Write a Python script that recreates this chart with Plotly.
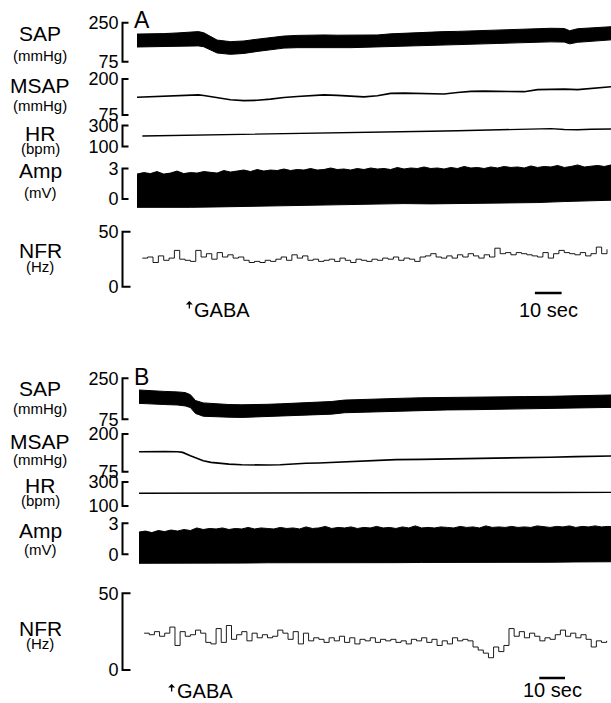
import plotly.graph_objects as go
import numpy as np

W, H = 611, 703
FONT = "Liberation Sans, Arial, Helvetica, sans-serif"

# ---------------- Panel A data ----------------
sap_a_t = [0, 5, 10, 15, 20, 23, 25, 30, 35, 40, 45, 50, 55, 60, 65, 70, 75, 80, 85, 90, 95, 100,
           105, 110, 115, 120, 125, 130, 135, 140, 145, 150, 155, 160, 162, 165, 170, 177.5]
sap_a_top = [199, 199, 201, 204, 207, 210, 205, 172, 165, 168, 176, 184, 190, 193, 195, 195, 194, 194, 193, 195, 200, 203,
             207, 209, 210, 211, 213, 214, 217, 219, 221, 224, 225, 224, 214, 223, 227, 232]
sap_a_bot = [141, 142, 143, 145, 145, 146, 142, 114, 108, 112, 121, 130, 136, 138, 139, 139, 138, 138, 137, 139, 143, 146,
             148, 149, 150, 151, 153, 155, 157, 159, 160, 163, 164, 163, 155, 162, 168, 173]

msap_a_t = [0, 5, 10, 15, 20, 23, 25, 30, 35, 40, 45, 50, 55, 60, 65, 70, 75, 80, 85, 90, 95, 100,
            105, 110, 115, 120, 125, 130, 135, 140, 145, 150, 155, 160, 165, 170, 177.5]
msap_a = [136.5, 138.5, 140, 142, 144, 145, 143, 135, 128, 125, 126, 130, 136, 139, 143, 145, 143, 141, 138, 142, 150, 151,
          150, 149, 148, 153, 157, 158, 157, 155, 156, 163, 165, 165, 163, 166, 173]

hr_a_t = [2, 10, 20, 30, 40, 50, 60, 70, 80, 90, 100, 110, 120, 130, 140, 150, 155, 160, 165, 170, 177.5]
hr_a = [200, 203, 207, 211, 215, 218, 222, 225, 227, 234, 239, 245, 250, 256, 262, 267, 270, 262, 259, 264, 267]

amp_a_top = [2.45, 2.60, 2.50, 2.70, 2.45, 2.55, 2.75, 2.50, 2.60, 2.55, 2.70, 2.60,
             2.55, 2.80, 2.65, 2.75, 2.85, 2.70, 2.90, 2.75, 2.85, 2.80, 2.95, 2.80,
             2.90, 2.85, 3.00, 2.85, 2.90, 3.05, 2.90, 2.95, 2.85, 3.00, 2.90, 3.05,
             2.95, 3.00, 2.90, 3.10, 2.95, 3.05, 3.00, 3.15, 3.00, 3.05, 2.95, 3.10,
             3.00, 3.20, 3.05, 3.10, 3.00, 3.15, 3.05, 3.20, 3.10, 3.15, 3.05, 3.25,
             3.10, 3.20, 3.15, 3.30, 3.10, 3.20, 3.35, 3.15, 3.25, 3.30, 3.20, 3.35]
amp_a_bot_t = [0, 10, 20, 30, 40, 50, 60, 70, 80, 90, 100, 110, 120, 130, 140, 150, 160, 170, 177.5]
amp_a_bot = [-0.82, -0.80, -0.82, -0.78, -0.80, -0.75, -0.70, -0.62, -0.55, -0.50, -0.45, -0.48,
             -0.45, -0.42, -0.40, -0.35, -0.25, -0.15, -0.12]

nfr_a = [26, 27, 22, 28, 24, 26, 33, 25, 24, 23,
         33, 27, 30, 25, 31, 27, 29, 26, 27, 24,
         22, 23, 22, 24, 23, 25, 27, 24, 29, 26,
         28, 24, 25, 23, 24, 25, 23, 26, 24, 22,
         25, 24, 23, 25, 24, 26, 25, 27, 24, 26,
         25, 23, 27, 28, 30, 27, 26, 28, 26, 29,
         27, 30, 28, 26, 29, 27, 35, 30, 31, 29,
         31, 30, 29, 28, 27, 31, 26, 30, 33, 31,
         30, 29, 31, 28, 30, 36, 30, 34]

# ---------------- Panel B data ----------------
sap_b_t = [0, 5, 10, 15, 18, 20, 22, 25, 30, 35, 40, 45, 50, 55, 60, 65, 70, 75, 80, 85, 90,
           100, 110, 120, 130, 140, 150, 160, 170, 180, 185]
sap_b_top = [200, 196, 194, 192, 189, 180, 155, 145, 140, 138, 137, 137, 139, 141, 143, 145, 148, 151, 157, 158, 160,
             164, 167, 169, 170, 171, 172, 173, 176, 178, 179]
sap_b_bot = [143, 140, 138, 136, 132, 125, 100, 88, 86, 84, 83, 83, 85, 88, 90, 93, 95, 97, 103, 103, 104,
             108, 112, 115, 116, 117, 118, 120, 122, 125, 126]

msap_b_t = [0, 5, 10, 15, 17, 20, 22, 25, 28, 30, 35, 40, 45, 50, 55, 60, 65, 70, 75, 80, 85, 90,
            100, 110, 120, 130, 140, 150, 160, 170, 185]
msap_b = [141, 142, 142, 141, 139, 128, 121, 111, 106, 104, 100, 98, 97, 97, 98, 101, 103, 104, 106, 108, 110, 112,
          115, 116, 117, 118, 119, 121, 123, 125, 127]

hr_b_t = [0, 20, 40, 60, 80, 100, 120, 140, 160, 185]
hr_b = [206, 206, 207, 208, 209, 210, 211, 212, 213, 214]

amp_b_top = [2.15, 2.25, 2.10, 2.30, 2.20, 2.35, 2.25, 2.40, 2.30, 2.55, 2.40, 2.50,
             2.45, 2.55, 2.40, 2.50, 2.45, 2.60, 2.45, 2.55, 2.50, 2.45, 2.60, 2.50,
             2.55, 2.45, 2.65, 2.50, 2.55, 2.70, 2.50, 2.60, 2.55, 2.65, 2.50, 2.60,
             2.55, 2.70, 2.55, 2.60, 2.50, 2.65, 2.55, 2.75, 2.55, 2.60, 2.55, 2.65,
             2.60, 2.55, 2.70, 2.60, 2.65, 2.55, 2.75, 2.60, 2.65, 2.60, 2.70, 2.60,
             2.65, 2.60, 2.75, 2.65, 2.60, 2.70, 2.65, 2.75, 2.60, 2.70, 2.65, 2.75,
             2.65, 2.70, 2.65]
amp_b_bot_t = [0, 10, 20, 30, 40, 50, 60, 70, 80, 90, 100, 110, 120, 130, 140, 150, 160, 170, 180, 185]
amp_b_bot = [-0.87, -0.85, -0.86, -0.84, -0.85, -0.82, -0.84, -0.81, -0.82, -0.80,
             -0.81, -0.79, -0.80, -0.78, -0.79, -0.76, -0.77, -0.74, -0.75, -0.72]

nfr_b = [24, 23, 25, 22, 24, 28, 16, 25, 22, 23,
         26, 24, 18, 17, 27, 18, 29, 20, 23, 25,
         19, 24, 21, 23, 21, 22, 26, 24, 20, 25,
         17, 24, 19, 21, 20, 18, 21, 19, 22, 18,
         21, 17, 20, 19, 21, 18, 20, 19, 20, 18,
         19, 17, 20, 19, 21, 18, 20, 16, 19, 17,
         21, 19, 20, 19, 15, 13, 11, 8, 15, 12,
         16, 27, 22, 25, 21, 24, 22, 19, 21, 20,
         23, 26, 22, 24, 21, 23, 20, 15, 19, 18,
         19]

gaba_a_t, gaba_b_t = 19.6, 12.7
bar_a_t, bar_b_t = 149.0, 155.8
scale_sec = 10

# ---------------- figure ----------------
def yp(px):
    return 1 - px / H

fig = go.Figure()

def band(t_top, top, t_bot, bot, xa, ya):
    fig.add_trace(go.Scatter(x=list(t_top) + list(t_bot)[::-1], y=list(top) + list(bot)[::-1],
                             xaxis=xa, yaxis=ya, mode="lines", fill="toself", fillcolor="black",
                             line=dict(color="black", width=1), hoverinfo="skip"))

def trace(t, v, xa, ya, width=1.2, shape="linear"):
    fig.add_trace(go.Scatter(x=t, y=v, xaxis=xa, yaxis=ya, mode="lines",
                             line=dict(color="black", width=width, shape=shape), hoverinfo="skip"))

t_amp_a = list(np.arange(len(amp_a_top)) * 2.5)
t_amp_b = list(np.arange(len(amp_b_top)) * 2.5)
t_nfr_a = list(2 + np.arange(len(nfr_a)) * 2)
t_nfr_b = list(2 + np.arange(len(nfr_b)) * 2)

band(sap_a_t, sap_a_top, sap_a_t, sap_a_bot, "x", "y")
trace(msap_a_t, msap_a, "x", "y2", width=1.6)
trace(hr_a_t, hr_a, "x", "y3", width=1.4)
band(t_amp_a, amp_a_top, amp_a_bot_t, amp_a_bot, "x", "y4")
trace(t_nfr_a, nfr_a, "x", "y5", width=0.9, shape="hv")

band(sap_b_t, sap_b_top, sap_b_t, sap_b_bot, "x2", "y6")
trace(msap_b_t, msap_b, "x2", "y7", width=1.6)
trace(hr_b_t, hr_b, "x2", "y8", width=1.4)
band(t_amp_b, amp_b_top, amp_b_bot_t, amp_b_bot, "x2", "y9")
trace(t_nfr_b, nfr_b, "x2", "y10", width=0.9, shape="hv")

# channel axis geometry: (axis, v_hi, px_hi, v_lo, px_lo, dom_top, dom_bot, ticklen)
chan = [
    ("y", 250, 22.7, 75, 61.7, 18, 66, 6),
    ("y2", 200, 79, 75, 115, 74, 118, 6),
    ("y3", 300, 125.5, 100, 146.5, 121, 150, 6),
    ("y4", 3, 168.5, 0, 199, 158, 214, 6),
    ("y5", 50, 231.7, 0, 286.7, 228, 290, 8),
    ("y6", 250, 378.3, 75, 419.3, 372, 423, 6),
    ("y7", 200, 434, 75, 471.7, 430, 475, 6),
    ("y8", 300, 482, 100, 506, 478, 510, 6),
    ("y9", 3, 523.3, 0, 554.3, 515, 570, 6),
    ("y10", 50, 593.3, 0, 670, 589, 673, 8),
]

layout_axes = {}
shapes = []
BX = 122.5
for name, vhi, phi, vlo, plo, dtop, dbot, tl in chan:
    s = (vhi - vlo) / (plo - phi)
    r0 = vlo - (dbot - plo) * s
    r1 = vhi + (phi - dtop) * s
    key = "yaxis" if name == "y" else "yaxis" + name[1:]
    layout_axes[key] = dict(domain=[yp(dbot), yp(dtop)], range=[r0, r1], anchor="free", position=BX / W,
                            showgrid=False, zeroline=False, showline=False, ticks="", automargin=False,
                            tickvals=[vlo, vhi], ticktext=[str(vlo), str(vhi)],
                            tickfont=dict(family=FONT, size=18, color="black"), ticklabelstandoff=4,
                            fixedrange=True)
    x0, x1 = BX / W, (BX + tl) / W
    shapes.append(dict(type="path", xref="paper", yref="paper",
                       path=f"M {x1},{yp(phi)} L {x0},{yp(phi)} L {x0},{yp(plo)} L {x1},{yp(plo)}",
                       line=dict(color="black", width=2)))

# scale bars
shapes.append(dict(type="line", xref="x", yref="paper", x0=bar_a_t, x1=bar_a_t + scale_sec,
                   y0=yp(293), y1=yp(293), line=dict(color="black", width=2.5)))
shapes.append(dict(type="line", xref="x2", yref="paper", x0=bar_b_t, x1=bar_b_t + scale_sec,
                   y0=yp(678), y1=yp(678), line=dict(color="black", width=2.5)))

ann = []
def label(text, ypx, size, x=40, xref="paper", xanchor="center", xshift=0):
    ann.append(dict(text=text, x=x / W if xref == "paper" else x, xref=xref, y=yp(ypx), yref="paper",
                    xanchor=xanchor, yanchor="middle", showarrow=False, xshift=xshift,
                    font=dict(family=FONT, size=size, color="black")))

for txt, ypx, sz in [("SAP", 34, 21), ("(mmHg)", 55, 15), ("MSAP", 86, 21), ("(mmHg)", 105, 15),
                     ("HR", 133, 21), ("(bpm)", 148, 15), ("Amp", 171, 21), ("(mV)", 192, 15),
                     ("NFR", 250, 21), ("(Hz)", 266, 15),
                     ("SAP", 388, 21), ("(mmHg)", 408, 15), ("MSAP", 441, 21), ("(mmHg)", 460, 15),
                     ("HR", 485, 21), ("(bpm)", 500, 15), ("Amp", 530, 21), ("(mV)", 549, 15),
                     ("NFR", 628, 21), ("(Hz)", 643, 15)]:
    label(txt, ypx, sz)

label("A", 20, 23, x=132, xanchor="left")
label("B", 377, 23, x=132, xanchor="left")

# GABA markers
for xa, tg, yhead, ytext in [("x", gaba_a_t, 301, 310), ("x2", gaba_b_t, 684, 691)]:
    ann.append(dict(text="", x=tg, xref=xa, y=yp(yhead), yref="paper", showarrow=True,
                    ax=0, ay=9, arrowhead=1, arrowsize=0.9, arrowwidth=1.3, arrowcolor="black"))
    label("GABA", ytext, 20, x=tg, xref=xa, xanchor="left", xshift=3)

label("10 sec", 310, 20, x=bar_a_t + scale_sec / 2, xref="x")
label("10 sec", 690, 20, x=bar_b_t + scale_sec / 2, xref="x2")

fig.update_layout(
    width=W, height=H, margin=dict(l=0, r=0, t=0, b=0, pad=0, autoexpand=False),
    paper_bgcolor="white", plot_bgcolor="white", showlegend=False,
    xaxis=dict(domain=[137 / W, 1], range=[0, 177.5], visible=False, fixedrange=True, automargin=False),
    xaxis2=dict(domain=[139 / W, 1], range=[0, 183.7], visible=False, anchor="y6", fixedrange=True,
                automargin=False),
    shapes=shapes, annotations=ann, font=dict(family=FONT, color="black"),
    **layout_axes,
)

fig.write_html("out.html", config={"displayModeBar": False},
               post_script="document.body.style.margin='0';document.body.style.overflow='hidden';")
